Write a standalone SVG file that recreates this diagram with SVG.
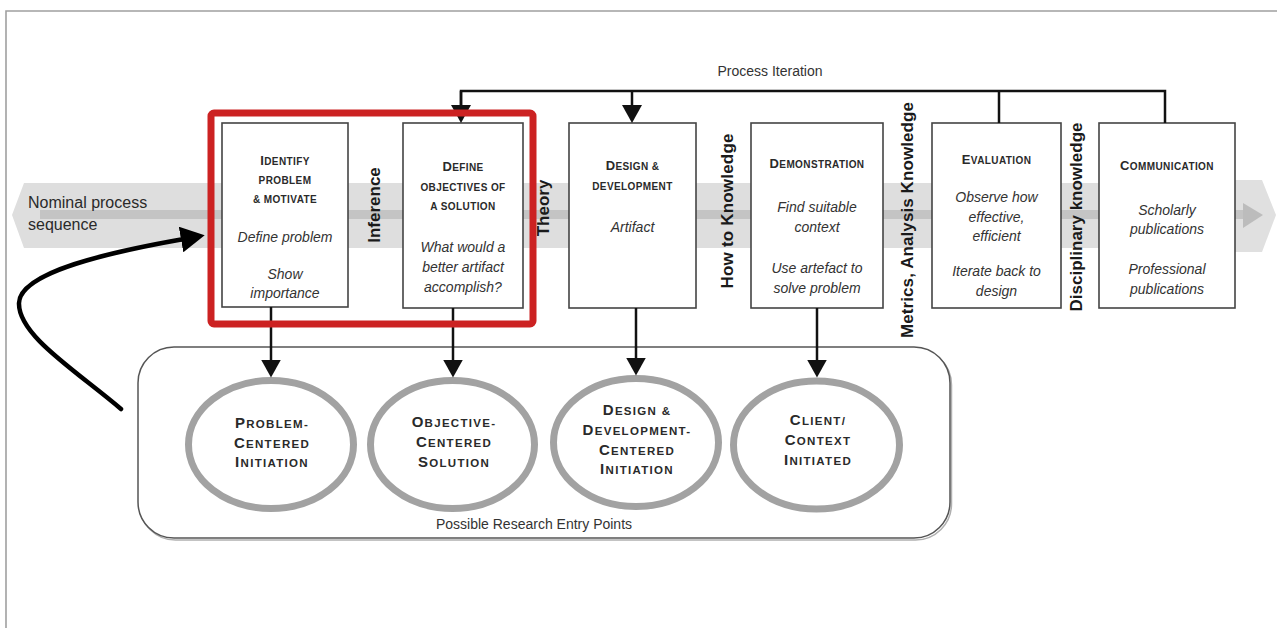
<svg xmlns="http://www.w3.org/2000/svg" width="1277" height="628" viewBox="0 0 1277 628">
  <style>
    text { font-family: "Liberation Sans", Arial, sans-serif; fill: #2a2a2a; }
    .box { fill: #ffffff; stroke: #444; stroke-width: 1.6; }
    .ttl { font-size: 10px; font-weight: bold; text-anchor: middle; letter-spacing: 0.4px; }
    .ttl .c { font-size: 13px; }
    .it { font-size: 14px; font-style: italic; text-anchor: middle; fill: #333; }
    .ell { fill: #ffffff; stroke: #a2a2a2; stroke-width: 7; }
    .et { font-size: 11.5px; font-weight: bold; text-anchor: middle; letter-spacing: 1.3px; }
    .et .c { font-size: 15px; }
    .vl { font-size: 17px; font-weight: bold; text-anchor: middle; fill: #1a1a1a; }
    .lbl { font-size: 14px; text-anchor: middle; fill: #333; }
    .ln { fill: none; stroke: #111; stroke-width: 2.5; }
  </style>
  <defs>
    <marker id="ad" viewBox="0 0 18 20" refX="0.5" refY="10" markerWidth="18" markerHeight="20" orient="auto" markerUnits="userSpaceOnUse">
      <path d="M0,0 L18,10 L0,20 Z" fill="#111"/>
    </marker>
    <marker id="big" viewBox="0 0 24 26" refX="3" refY="13" markerWidth="24" markerHeight="26" orient="auto" markerUnits="userSpaceOnUse">
      <path d="M0,0 L24,13 L0,26 Z" fill="#000"/>
    </marker>
  </defs>

  <rect width="1277" height="628" fill="#ffffff"/>
  <!-- page frame -->
  <path d="M6,628 V11 H1277" fill="none" stroke="#a0a0a0" stroke-width="1.6"/>

  <!-- nominal process band -->
  <g id="band">
    <path d="M12,215 L24,183 L1240,183 L1240,248 L24,248 Z" fill="#dedede"/>
    <path d="M1235,180 L1262,180 L1276,215 L1262,252 L1235,252 Z" fill="#e0e0e0"/>
    <rect x="40" y="210" width="1205" height="9" fill="#c4c4c4"/>
    <path d="M1243,203 L1263,215 L1243,228 Z" fill="#bcbcbc"/>
    <text x="28" y="208" font-size="16" fill="#444">Nominal process</text>
    <text x="28" y="230" font-size="16" fill="#444">sequence</text>
  </g>

  <!-- entry points container -->
  <g id="entry-points">
    <rect x="139.5" y="349" width="812" height="191" rx="36" fill="none" stroke="#b0b0b0" stroke-width="1.5"/>
    <rect x="138" y="347" width="812" height="191" rx="36" fill="#ffffff" stroke="#555" stroke-width="1.5"/>
    <text class="lbl" x="534" y="529">Possible Research Entry Points</text>
  </g>

  <!-- knowledge labels between activities -->
  <g id="labels">
    <text class="vl" transform="translate(380,205) rotate(-90)">Inference</text>
    <text class="vl" transform="translate(549,208) rotate(-90)">Theory</text>
    <text class="vl" transform="translate(733,211) rotate(-90)" textLength="155">How to Knowledge</text>
    <text class="vl" transform="translate(913,220) rotate(-90)" textLength="236">Metrics, Analysis Knowledge</text>
    <text class="vl" transform="translate(1082,217) rotate(-90)">Disciplinary knowledge</text>
    <text class="lbl" x="770" y="76">Process Iteration</text>
  </g>

  <!-- activity boxes -->
  <g id="identify">
    <rect class="box" x="222" y="123" width="126" height="184"/>
    <text class="ttl" x="285" y="165"><tspan class="c">I</tspan>DENTIFY</text>
    <text class="ttl" x="285" y="184">PROBLEM</text>
    <text class="ttl" x="285" y="203">&amp; MOTIVATE</text>
    <text class="it" x="285" y="242">Define problem</text>
    <text class="it" x="285" y="279">Show</text>
    <text class="it" x="285" y="298">importance</text>
  </g>
  <g id="objectives">
    <rect class="box" x="403" y="123" width="120" height="185"/>
    <text class="ttl" x="463" y="171"><tspan class="c">D</tspan>EFINE</text>
    <text class="ttl" x="463" y="191">OBJECTIVES OF</text>
    <text class="ttl" x="463" y="210">A SOLUTION</text>
    <text class="it" x="463" y="252">What would a</text>
    <text class="it" x="463" y="272">better artifact</text>
    <text class="it" x="463" y="292">accomplish?</text>
  </g>
  <g id="design">
    <rect class="box" x="569" y="123" width="127" height="185"/>
    <text class="ttl" x="632.5" y="170"><tspan class="c">D</tspan>ESIGN &amp;</text>
    <text class="ttl" x="632.5" y="190">DEVELOPMENT</text>
    <text class="it" x="632.5" y="232">Artifact</text>
  </g>
  <g id="demonstration">
    <rect class="box" x="751" y="123" width="132" height="185"/>
    <text class="ttl" x="817" y="168"><tspan class="c">D</tspan>EMONSTRATION</text>
    <text class="it" x="817" y="212">Find suitable</text>
    <text class="it" x="817" y="232">context</text>
    <text class="it" x="817" y="273">Use artefact to</text>
    <text class="it" x="817" y="293">solve problem</text>
  </g>
  <g id="evaluation">
    <rect class="box" x="932" y="123" width="129" height="185"/>
    <text class="ttl" x="996.5" y="164"><tspan class="c">E</tspan>VALUATION</text>
    <text class="it" x="996.5" y="202">Observe how</text>
    <text class="it" x="996.5" y="222">effective,</text>
    <text class="it" x="996.5" y="241">efficient</text>
    <text class="it" x="996.5" y="276">Iterate back to</text>
    <text class="it" x="996.5" y="296">design</text>
  </g>
  <g id="communication">
    <rect class="box" x="1099" y="123" width="136" height="185"/>
    <text class="ttl" x="1167" y="170"><tspan class="c">C</tspan>OMMUNICATION</text>
    <text class="it" x="1167" y="215">Scholarly</text>
    <text class="it" x="1167" y="234">publications</text>
    <text class="it" x="1167" y="274">Professional</text>
    <text class="it" x="1167" y="294">publications</text>
  </g>

  <!-- entry point ellipses -->
  <g id="problem-centered">
    <ellipse class="ell" cx="271" cy="444.5" rx="82.5" ry="64"/>
    <text class="et" x="272" y="428"><tspan class="c">P</tspan>ROBLEM-</text>
    <text class="et" x="272" y="448"><tspan class="c">C</tspan>ENTERED</text>
    <text class="et" x="272" y="467"><tspan class="c">I</tspan>NITIATION</text>
  </g>
  <g id="objective-centered">
    <ellipse class="ell" cx="452.5" cy="444.5" rx="82" ry="64"/>
    <text class="et" x="454" y="427"><tspan class="c">O</tspan>BJECTIVE-</text>
    <text class="et" x="454" y="447"><tspan class="c">C</tspan>ENTERED</text>
    <text class="et" x="454" y="467"><tspan class="c">S</tspan>OLUTION</text>
  </g>
  <g id="design-centered">
    <ellipse class="ell" cx="636" cy="442.5" rx="82.5" ry="64"/>
    <text class="et" x="637" y="415"><tspan class="c">D</tspan>ESIGN &amp;</text>
    <text class="et" x="637" y="435"><tspan class="c">D</tspan>EVELOPMENT-</text>
    <text class="et" x="637" y="455"><tspan class="c">C</tspan>ENTERED</text>
    <text class="et" x="637" y="474"><tspan class="c">I</tspan>NITIATION</text>
  </g>
  <g id="client-context">
    <ellipse class="ell" cx="816.5" cy="445" rx="83" ry="64"/>
    <text class="et" x="818" y="425"><tspan class="c">C</tspan>LIENT/</text>
    <text class="et" x="818" y="445"><tspan class="c">C</tspan>ONTEXT</text>
    <text class="et" x="818" y="465"><tspan class="c">I</tspan>NITIATED</text>
  </g>

  <!-- connectors -->
  <g id="connectors">
    <path class="ln" d="M461,105 V91 H1165 V123 M999,91 V123"/>
    <line class="ln" x1="461" y1="91" x2="461" y2="105.5" marker-end="url(#ad)"/>
    <line class="ln" x1="632" y1="91" x2="632" y2="105.5" marker-end="url(#ad)"/>
    <line class="ln" x1="271" y1="307" x2="271" y2="360" marker-end="url(#ad)"/>
    <line class="ln" x1="453" y1="308" x2="453" y2="360" marker-end="url(#ad)"/>
    <line class="ln" x1="636" y1="308" x2="636" y2="358" marker-end="url(#ad)"/>
    <line class="ln" x1="817" y1="308" x2="817" y2="360" marker-end="url(#ad)"/>
    <path d="M121,409 C75,370 18,335 19,303 C20,272 110,252 184,239" fill="none" stroke="#000" stroke-width="4.5" stroke-linecap="round" marker-end="url(#big)"/>
  </g>

  <!-- highlight frame -->
  <rect id="highlight" x="211" y="113" width="322" height="211" rx="3" fill="none" stroke="#cc2222" stroke-width="7"/>
</svg>
